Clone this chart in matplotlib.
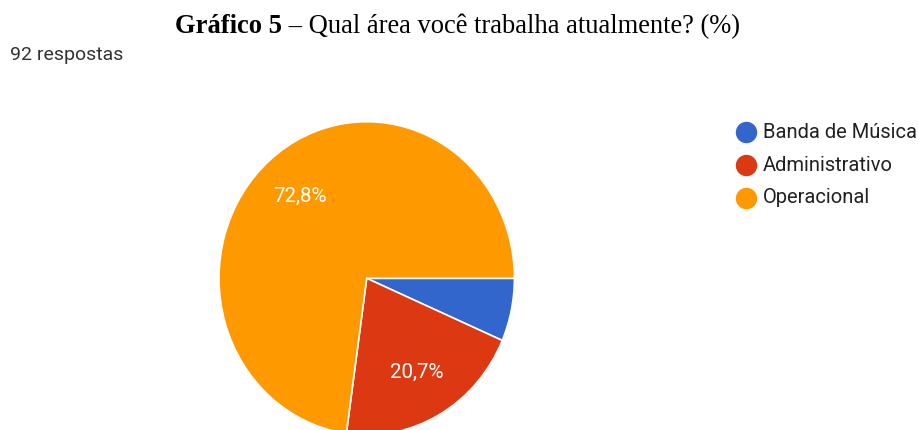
import matplotlib
matplotlib.use("Agg")
import matplotlib.pyplot as plt
from matplotlib.lines import Line2D

categories = ["Banda de Música", "Administrativo", "Operacional"]
percentages = [6.5, 20.7, 72.8]
colors = ["#3366CC", "#DC3912", "#FF9900"]
title_bold = "Gráfico 5"
title_rest = " – Qual área você trabalha atualmente? (%)"
subtitle = "92 respostas"

W, H = 918, 430
fig = plt.figure(figsize=(W / 100, H / 100), dpi=100)
fig.patch.set_facecolor("white")

def fx(px):
    return px / W

def fy(py):
    return 1 - py / H

# Pie axes (slightly elliptical like the reference)
cx, cy, rx, ry = 366.7, 278.3, 147.7, 156.6
ax = fig.add_axes([fx(cx - rx), fy(cy + ry), 2 * rx / W, 2 * ry / H])

def fmt(p):
    return (f"{p:.1f}".replace(".", ",") + "%") if p > 10 else ""

wedges, texts, autotexts = ax.pie(
    percentages, colors=colors, startangle=0, counterclock=False,
    autopct=fmt, pctdistance=0.69,
    wedgeprops=dict(edgecolor="white", linewidth=1.2),
    textprops=dict(color="white", fontsize=14.8, family=["Roboto", "DejaVu Sans"]),
)
ax.set_aspect("auto")
ax.set_xlim(-1, 1)
ax.set_ylim(-1, 1)
ax.axis("off")

# Title: fit to span x = 175..742 px
serif = ["Liberation Serif", "DejaVu Serif"]
base = 17.5
t1 = fig.text(fx(175), fy(33), title_bold, fontsize=base, fontweight="bold",
              family=serif, va="baseline", ha="left")
t2 = fig.text(0, fy(33), title_rest, fontsize=base, family=serif,
              va="baseline", ha="left")
fig.canvas.draw()
r = fig.canvas.get_renderer()
total = t1.get_window_extent(r).width + t2.get_window_extent(r).width
size = base * (742 - 175) / total
t1.set_fontsize(size)
t2.set_fontsize(size)
fig.canvas.draw()
bb = t1.get_window_extent(r)
t2.set_x(bb.x1 / W)

fig.text(fx(10), fy(55), subtitle, fontsize=14, color="#333333",
         family=["Roboto", "DejaVu Sans"], va="center", ha="left")

# Legend
leg_y = [132.3, 165.3, 197.7]
for name, col, y in zip(categories, colors, leg_y):
    fig.add_artist(Line2D([fx(745.7)], [fy(y)], marker="o", markersize=14.4,
                          color=col, linestyle="none", transform=fig.transFigure))
    fig.text(fx(763), fy(y), name, fontsize=14.5, color="#212121",
             family=["Roboto", "DejaVu Sans"], va="center", ha="left")

fig.savefig("out.png", dpi=100)
